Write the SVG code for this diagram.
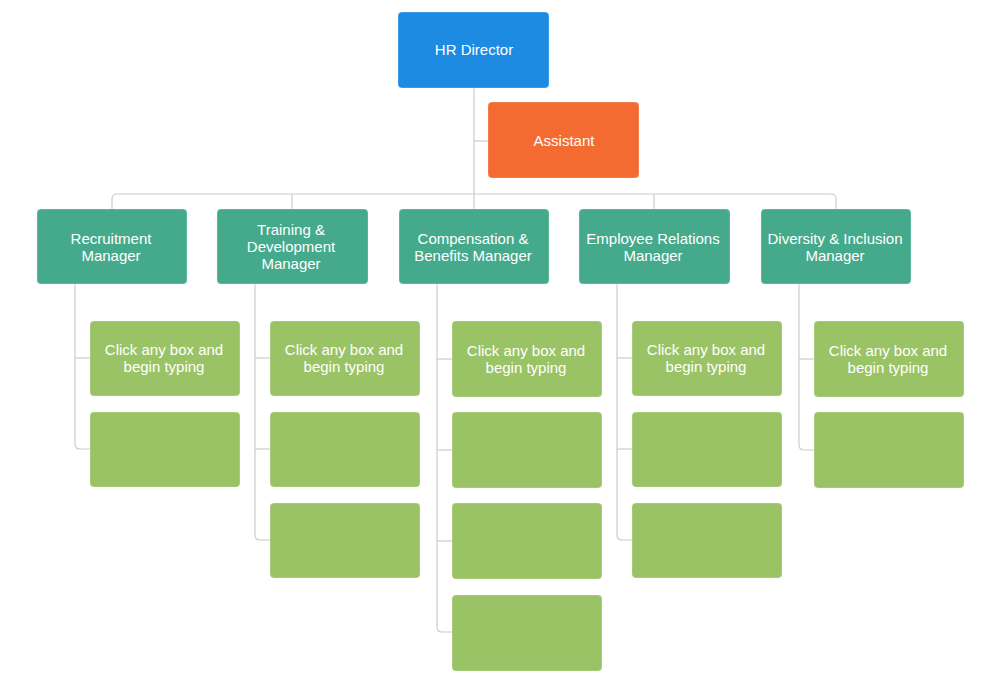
<svg xmlns="http://www.w3.org/2000/svg" width="1000" height="698" viewBox="0 0 1000 698">
  <style>
    .box { stroke: #ffffff; stroke-opacity: 0.25; stroke-width: 1; }
    .dir { fill: #1E8BE3; }
    .asst { fill: #F46B32; }
    .mgr { fill: #45AA8C; }
    .item { fill: #9AC365; }
    .lbl { font-family: "Liberation Sans", Arial, sans-serif; font-size: 15px; fill: #ffffff; text-anchor: middle; }
    .wire { fill: none; stroke: #CCCCCC; stroke-width: 1.2; }
  </style>
  <rect width="1000" height="698" fill="#ffffff"/>

  <!-- connectors -->
  <g id="connectors" class="wire">
    <path d="M474,88 V209"/>
    <path d="M474,141 H488"/>
    <path d="M112,209 V199 Q112,194 117,194 H831 Q836,194 836,199 V209"/>
    <path d="M292,194 V209"/>
    <path d="M654,194 V209"/>
    <!-- Recruitment -->
    <path d="M75,284 V444 Q75,449 80,449 H90"/>
    <path d="M75,358 H90"/>
    <!-- Training -->
    <path d="M255,284 V535 Q255,540 260,540 H270"/>
    <path d="M255,358 H270"/>
    <path d="M255,449 H270"/>
    <!-- Compensation -->
    <path d="M437,284 V627 Q437,632 442,632 H452"/>
    <path d="M437,359 H452"/>
    <path d="M437,450 H452"/>
    <path d="M437,541 H452"/>
    <!-- Employee Relations -->
    <path d="M617,284 V535 Q617,540 622,540 H632"/>
    <path d="M617,358 H632"/>
    <path d="M617,449 H632"/>
    <!-- Diversity -->
    <path d="M799,284 V445 Q799,450 804,450 H814"/>
    <path d="M799,359 H814"/>
  </g>

  <g id="hr-director">
    <rect class="box dir" x="398" y="12" width="151" height="76" rx="4"/>
    <text class="lbl" x="474" y="55">HR Director</text>
  </g>
  <g id="assistant">
    <rect class="box asst" x="488" y="102" width="151" height="76" rx="4"/>
    <text class="lbl" x="564" y="146">Assistant</text>
  </g>

  <g id="recruitment-manager">
    <rect class="box mgr" x="37" y="209" width="150" height="75" rx="4"/>
    <text class="lbl" x="111" y="244">Recruitment</text>
    <text class="lbl" x="111" y="261">Manager</text>
  </g>
  <g id="training-manager">
    <rect class="box mgr" x="217" y="209" width="151" height="75" rx="4"/>
    <text class="lbl" x="291" y="235">Training &amp;</text>
    <text class="lbl" x="291" y="252">Development</text>
    <text class="lbl" x="291" y="269">Manager</text>
  </g>
  <g id="compensation-manager">
    <rect class="box mgr" x="399" y="209" width="150" height="75" rx="4"/>
    <text class="lbl" x="473" y="244">Compensation &amp;</text>
    <text class="lbl" x="473" y="261">Benefits Manager</text>
  </g>
  <g id="employee-relations-manager">
    <rect class="box mgr" x="579" y="209" width="151" height="75" rx="4"/>
    <text class="lbl" x="653" y="244">Employee Relations</text>
    <text class="lbl" x="653" y="261">Manager</text>
  </g>
  <g id="diversity-manager">
    <rect class="box mgr" x="761" y="209" width="150" height="75" rx="4"/>
    <text class="lbl" x="835" y="244">Diversity &amp; Inclusion</text>
    <text class="lbl" x="835" y="261">Manager</text>
  </g>

  <!-- Recruitment staff -->
  <g id="recruitment-1">
    <rect class="box item" x="90" y="321" width="150" height="75" rx="4"/>
    <text class="lbl" x="164" y="355">Click any box and</text>
    <text class="lbl" x="164" y="372">begin typing</text>
  </g>
  <g id="recruitment-2"><rect class="box item" x="90" y="412" width="150" height="75" rx="4"/></g>

  <!-- Training staff -->
  <g id="training-1">
    <rect class="box item" x="270" y="321" width="150" height="75" rx="4"/>
    <text class="lbl" x="344" y="355">Click any box and</text>
    <text class="lbl" x="344" y="372">begin typing</text>
  </g>
  <g id="training-2"><rect class="box item" x="270" y="412" width="150" height="75" rx="4"/></g>
  <g id="training-3"><rect class="box item" x="270" y="503" width="150" height="75" rx="4"/></g>

  <!-- Compensation staff -->
  <g id="compensation-1">
    <rect class="box item" x="452" y="321" width="150" height="76" rx="4"/>
    <text class="lbl" x="526" y="356">Click any box and</text>
    <text class="lbl" x="526" y="373">begin typing</text>
  </g>
  <g id="compensation-2"><rect class="box item" x="452" y="412" width="150" height="76" rx="4"/></g>
  <g id="compensation-3"><rect class="box item" x="452" y="503" width="150" height="76" rx="4"/></g>
  <g id="compensation-4"><rect class="box item" x="452" y="595" width="150" height="76" rx="4"/></g>

  <!-- Employee Relations staff -->
  <g id="employee-1">
    <rect class="box item" x="632" y="321" width="150" height="75" rx="4"/>
    <text class="lbl" x="706" y="355">Click any box and</text>
    <text class="lbl" x="706" y="372">begin typing</text>
  </g>
  <g id="employee-2"><rect class="box item" x="632" y="412" width="150" height="75" rx="4"/></g>
  <g id="employee-3"><rect class="box item" x="632" y="503" width="150" height="75" rx="4"/></g>

  <!-- Diversity staff -->
  <g id="diversity-1">
    <rect class="box item" x="814" y="321" width="150" height="76" rx="4"/>
    <text class="lbl" x="888" y="356">Click any box and</text>
    <text class="lbl" x="888" y="373">begin typing</text>
  </g>
  <g id="diversity-2"><rect class="box item" x="814" y="412" width="150" height="76" rx="4"/></g>
</svg>
